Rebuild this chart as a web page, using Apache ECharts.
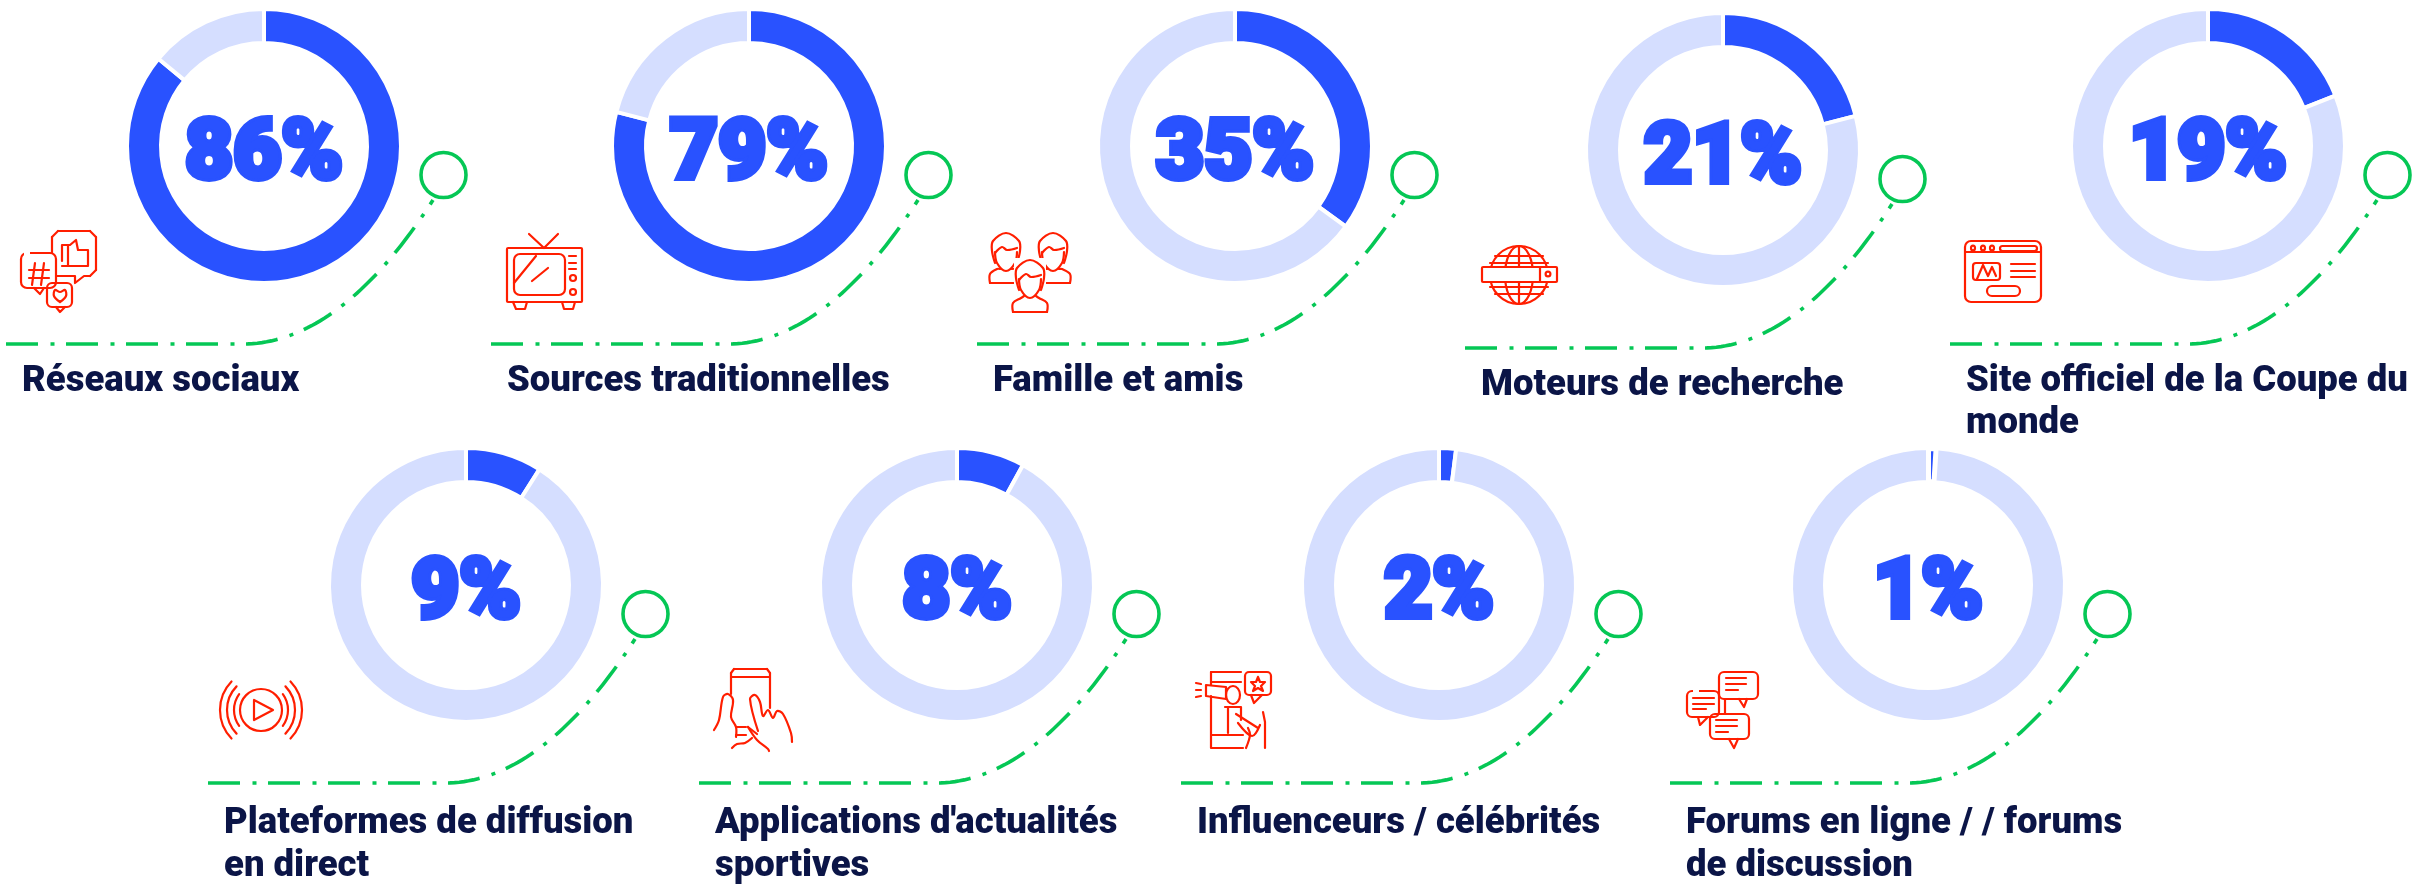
<!DOCTYPE html>
<html><head><meta charset="utf-8">
<style>html,body{margin:0;padding:0;background:#fff}#c{width:2432px;height:886px}</style>
<script src="https://cdn.jsdelivr.net/npm/echarts@6/dist/echarts.min.js"></script>
</head><body><div id="c"></div>
<script>
// ---- data ----
const categories = [
  'Réseaux sociaux','Sources traditionnelles','Famille et amis','Moteurs de recherche',
  'Site officiel de la Coupe du\nmonde','Plateformes de diffusion\nen direct',
  "Applications d'actualités\nsportives",'Influenceurs / célébrités','Forums en ligne / / forums\nde discussion'
];
const shares = [86,79,35,21,19,9,8,2,1];
// ---- layout ----
const centerX = [264,749,1235,1723,2208,466,957,1439,1928];
const centerY = [146,146,146,150,146,585,585,585,585];
const BLUE='#2952ff', PALE='#d5deff', GREEN='#05c755', RED='#ff1e00', NAVY='#0b1547';

const g=[];
const st=(w)=>({fill:'none',stroke:RED,lineWidth:w||2.2,lineCap:'round',lineJoin:'round'});
const R=(x,y,w,h,r)=>g.push({type:'rect',shape:{x,y,width:w,height:h,r:r||0},style:st(),silent:true,z:5});
const C=(cx,cy,r)=>g.push({type:'circle',shape:{cx,cy,r},style:st(),silent:true,z:5});
const E=(cx,cy,rx,ry)=>g.push({type:'ellipse',shape:{cx,cy,rx,ry},style:st(),silent:true,z:5});
const toPts=a=>{const p=[];for(let i=0;i<a.length;i+=2)p.push([a[i],a[i+1]]);return p;};
const L=(...a)=>g.push({type:'polyline',shape:{points:toPts(a)},style:st(),silent:true,z:5});
const S=(...a)=>g.push({type:'polyline',shape:{points:toPts(a),smooth:0.35},style:st(),silent:true,z:5});
const A=(cx,cy,r,s,e)=>g.push({type:'arc',shape:{cx,cy,r,startAngle:s*Math.PI/180,endAngle:e*Math.PI/180,clockwise:true},style:st(),silent:true,z:5});
const W=(x,y,w,h)=>g.push({type:'rect',shape:{x,y,width:w,height:h},style:{fill:'#fff'},silent:true,z:5});

// connectors and captions
centerX.forEach((cx,i)=>{
  const cy=centerY[i], pts=[[cx-258,cy+198]];
  const P=[[cx-21,cy+198],[cx+56,cy+198],[cx+121,cy+129],[cx+169,cy+54]];
  for(let k=0;k<=48;k++){const t=k/48,u=1-t;
    pts.push([0,1].map(d=>u*u*u*P[0][d]+3*u*u*t*P[1][d]+3*u*t*t*P[2][d]+t*t*t*P[3][d]));}
  g.push({type:'polyline',shape:{points:pts},style:{fill:'none',stroke:GREEN,lineWidth:3.6,lineDash:[32,12.5,4,11.5]},silent:true,z:3});
  g.push({type:'circle',shape:{cx:cx+179.5,cy:cy+29,r:22.5},style:{fill:'#fff',stroke:GREEN,lineWidth:3.6},silent:true,z:4});
  categories[i].split('\n').forEach((line,j)=>{
    g.push({type:'text',x:cx-242,y:cy+(i<5?217:220.5)+j*42.5,silent:true,z:6,
      style:{text:line,fill:NAVY,font:'900 36.5px Roboto',textBaseline:'middle'}});
  });
});

// icon 1: social bubbles
L(85,231,58,231);S(58,231,52,237);L(52,237,52,253);
L(84,231,90,231);S(90,231,96,237);L(96,237,96,270);S(96,270,90,276);L(90,276,84,276,75,283,75,276,57,276);
L(62,261,62,245,70,245,76,240,77,245,78,250,88,250,88,266,62,266);L(68,245,68,266);
R(21,253,35,35,6);W(24,250,6,6);L(34,288,40,294,44,288);
L(35,263,32,285);L(44,263,41,285);L(29,270,49,270);L(29,278,49,278);
R(47,283,25,24,5);L(56,307,60,312,65,307);
S(60,302,54,296,55,290,60,292,65,290,66,296,60,302);
// icon 2: TV
R(507,248,75,54,1);R(514,254,51,41,6);L(529,234,544,248,558,234);
L(514,283,536,256);L(532,281,548,268);
L(569,256,576,256);L(569,263,576,263);L(569,269,576,269);E(573,278,3,3);E(573,292,3,3);
L(513,302,516,309,525,309,527,302);L(562,302,564,309,573,309,575,302);
// icon 3: family
const person=(x,y,bodyL,bodyR,bodyB)=>{
  S(x-11,y+14,x-14,y+2,x-13,y-8,x,y-16,x+13,y-8,x+14,y+2,x+11,y+14);
  S(x-11,y+4,x-4,y-2,x+1,y+1,x+11,y-1);
  S(x-11,y+3,x-9,y+14,x,y+22,x+9,y+14,x+11,y+3);
  S(bodyL,bodyB,bodyL,bodyB-9,x-9,bodyB-14,x-6,y+20);
  S(bodyR,bodyB,bodyR,bodyB-9,x+9,bodyB-14,x+6,y+20);
  L(bodyL,bodyB,bodyR,bodyB);
};
person(1006,249,990,1022,283);
person(1053,249,1040,1070,283);
W(1014,258,32,42);
person(1030,276,1013,1047,312);
// icon 4: globe
C(1519,275,29);E(1519,275,14,29);L(1519,246,1519,267);L(1519,282,1519,304);
L(1495,256,1543,256);L(1490,263,1548,263);L(1495,294,1543,294);L(1490,287,1548,287);
W(1482,267,75,15);R(1482,267,75,15,1);L(1540,267,1540,282);C(1548,274,2.4);
// icon 5: browser
R(1965,241,76,61,6);L(1965,252,2041,252);E(1973,248,2,2.4);E(1983,248,2,2.4);E(1992,248,2,2.4);R(2000,246,37,5,2.5);
R(1973,263,27,17,3);L(1977,279,1983,265,1988,276,1992,267,1996,276);
L(2011,264,2035,264);L(2011,271,2035,271);L(2011,277,2035,277);R(1987,286,33,10,5);
// icon 6: stream
C(261,710,21);L(254,700,273,710,254,720,254,700);
[27,34,41].forEach((r,k)=>{const t=k==0?36:44;A(261,710,r,-t,t);A(261,710,r,180-t,180+t);});
// icon 7: phone
L(731,694,731,673);S(731,673,734,669);L(734,669,767,669);S(767,669,770,673);L(770,673,770,708);L(731,677,770,677);
S(714,730,719,720,723,697,728,694,733,700,731,717,736,727,736,737);
L(736,727,746,727);L(736,735,746,735);
S(758,731,750,699,755,695,760,702,763,716,768,710,773,718,777,711,783,714,791,733,792,742);
S(748,727,757,740,768,749,769,751);S(748,727,757,734);
S(732,748,737,744,745,743,752,738);
// icon 8: influencer
L(1211,696,1211,748,1243,748);L(1211,735,1243,735);L(1211,672,1241,672);L(1211,682,1241,682);L(1211,672,1211,685);
L(1206,685,1226,687,1226,699,1206,696,1206,685);L(1196,683,1201,684);L(1196,690,1201,690);L(1196,697,1201,696);
E(1233,695,7,9);L(1225,707,1241,707,1241,720);L(1228,707,1228,733);
R(1245,672,26,23,4);L(1251,695,1254,703,1262,695);
L(1258,677,1260,682,1265,682,1261,686,1263,691,1258,688,1253,691,1255,686,1251,682,1256,682,1258,677);
S(1238,723,1252,736,1260,725);L(1236,714,1258,728);L(1263,712,1265,722,1265,748);S(1246,748,1250,735,1248,728);
// icon 9: forums
R(1719,672,39,27,5);L(1739,699,1744,707,1747,699);L(1726,678,1746,678);L(1726,684,1746,684);L(1726,690,1738,690);
R(1687,691,32,26,5);W(1693,688,6,6);L(1698,717,1700,725,1708,717);L(1693,698,1714,698);L(1693,704,1714,704);L(1693,709,1706,709);
R(1710,714,39,25,5);L(1729,739,1734,748,1738,739);L(1716,720,1737,720);L(1716,726,1737,726);L(1716,732,1728,732);
L(1725,699,1725,714);

// donuts
const series=shares.map((v,i)=>({
  type:'pie',name:categories[i].replace('\n',' '),silent:true,animation:false,z:2,
  radius:[103,137],center:[centerX[i],centerY[i]],startAngle:90,clockwise:true,avoidLabelOverlap:false,
  itemStyle:{borderColor:'#fff',borderWidth:4},labelLine:{show:false},
  labelLayout:{dy:11},
  data:[
    {name:categories[i].replace('\n',' '),value:v,itemStyle:{color:BLUE,borderColor:'#fff',borderWidth:v<2?6:4},
     label:{show:true,position:'center',formatter:'{c}%',color:BLUE,fontFamily:'Roboto',fontWeight:900,fontSize:83,
            textBorderColor:BLUE,textBorderWidth:6}},
    {name:'',value:100-v,itemStyle:{color:PALE},label:{show:false}}
  ]
}));
const chart=echarts.init(document.getElementById('c'),null,{renderer:'canvas'});
chart.setOption({backgroundColor:'#fff',animation:false,tooltip:{show:false},legend:{show:false},series,graphic:{elements:g}});
</script></body></html>
